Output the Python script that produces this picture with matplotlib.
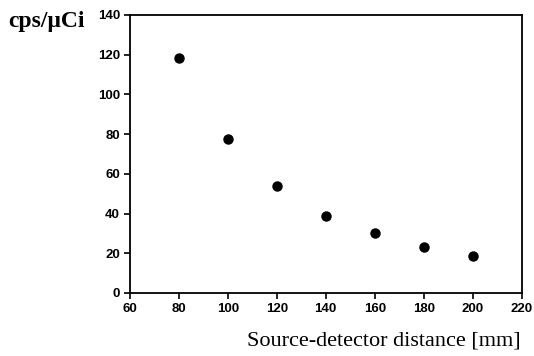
import matplotlib.pyplot as plt

# distance in mm and count rate
distance = [80, 100, 120, 140, 160, 180, 200]
cps = [118.3, 77.5, 53.7, 38.9, 30.2, 23.3, 18.8]
xticks = [60, 80, 100, 120, 140, 160, 180, 200, 220]
yticks = [0, 20, 40, 60, 80, 100, 120, 140]

fig = plt.figure(figsize=(5.34, 3.56), dpi=100)
ax = fig.add_axes([0.243, 0.177, 0.734, 0.781])

ax.plot(distance, cps, 'o', color='black', markersize=6.5)

ax.set_xlim(60, 220)
ax.set_ylim(0, 140)
ax.set_xticks(xticks)
ax.set_yticks(yticks)
for lab in ax.get_xticklabels() + ax.get_yticklabels():
    lab.set_fontfamily('Liberation Sans')
    lab.set_fontweight('bold')
    lab.set_fontsize(9.5)
ax.tick_params(direction='out', length=4, width=1.2, pad=3)
for s in ax.spines.values():
    s.set_linewidth(1.3)

fig.text(0.975, 0.03, 'Source-detector distance [mm]', ha='right', va='baseline',
         fontfamily='Liberation Serif', fontsize=16)
fig.text(0.015, 0.924, 'cps/\u03bcCi', ha='left', va='baseline',
         fontfamily='Liberation Serif', fontweight='bold', fontsize=17)

plt.savefig('out.png', dpi=100)
